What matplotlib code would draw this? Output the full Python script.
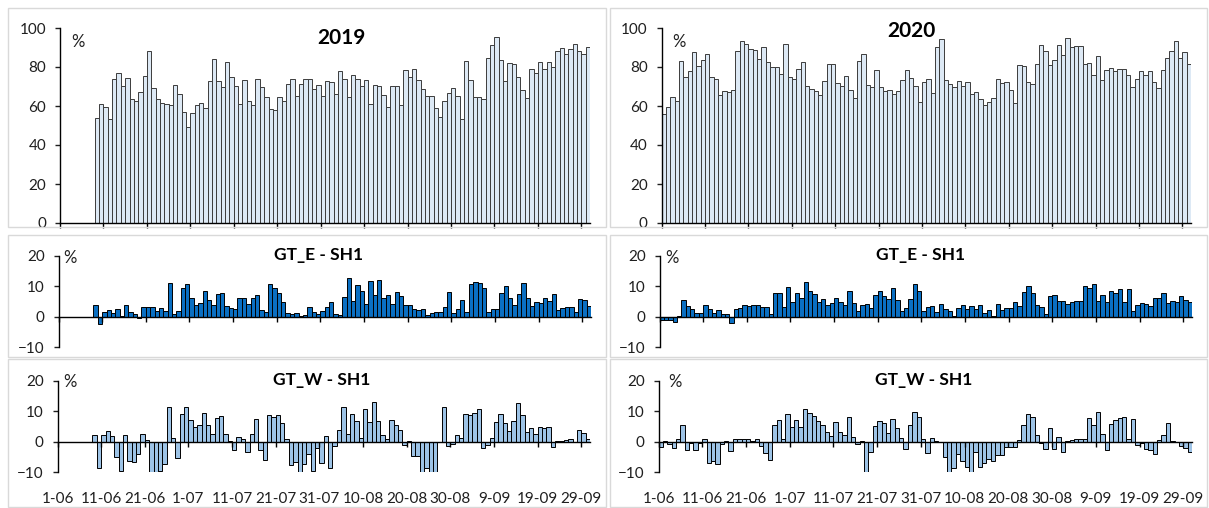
"""Daily occupancy 2019 vs 2020 with GT_E / GT_W differences."""

import numpy as np
import matplotlib.pyplot as plt
from matplotlib.patches import Rectangle

plt.rcParams["font.family"] = ["Lato", "DejaVu Sans"]

N_DAYS = 122  # 1 June .. 30 September
tick_labels = ["1-06", "11-06", "21-06", "1-07", "11-07", "21-07", "31-07",
               "10-08", "20-08", "30-08", "9-09", "19-09", "29-09"]

# 2019 series start on 9 June
occ_2019 = [
    54.0, 60.9, 59.7, 53.3, 74.0, 76.9, 70.4, 74.4, 63.4, 62.6,
    67.0, 75.6, 88.0, 69.4, 63.4, 61.7, 60.9, 60.5, 70.9, 66.2,
    57.1, 49.1, 56.2, 60.3, 61.7, 58.8, 72.8, 84.3, 72.8, 69.9,
    82.6, 74.7, 70.3, 60.9, 73.5, 62.6, 60.3, 74.0, 69.9, 64.4,
    58.5, 57.8, 64.8, 62.4, 71.5, 74.0, 65.3, 71.5, 74.0, 74.0,
    68.9, 70.9, 65.3, 72.8, 72.5, 66.2, 77.8, 73.7, 64.4, 76.1,
    74.0, 70.4, 73.2, 61.2, 70.9, 70.3, 65.8, 59.7, 70.3, 70.3,
    60.3, 78.5, 74.7, 79.1, 73.2, 68.9, 65.0, 65.3, 59.1, 54.4,
    62.4, 66.5, 69.4, 65.3, 53.5, 83.2, 73.2, 64.8, 64.8, 63.4,
    84.6, 91.3, 95.2, 83.8, 72.8, 81.9, 81.4, 75.0, 68.4, 64.1,
    79.0, 76.8, 82.7, 78.8, 82.7, 79.8, 88.4, 89.9, 86.8, 89.1,
    91.6, 88.0, 86.8, 90.4,
]
gte_2019 = [
    3.7, -2.5, 1.5, 2.3, 1.3, 2.7, 0.3, 3.7, 1.5, 0.8,
    -0.3, 3.2, 3.2, 3.2, 2.0, 2.8, 1.8, 11.2, 0.8, 1.8,
    9.5, 10.6, 6.3, 4.0, 4.6, 8.3, 5.6, 4.0, 7.5, 7.8,
    3.5, 3.0, 2.5, 6.3, 6.0, 4.3, 6.0, 7.0, 2.2, 1.5,
    10.7, 9.5, 7.8, 5.0, 1.3, 1.0, 1.3, 0.3, 0.5, 3.2,
    1.5, 1.0, 1.8, 3.3, 4.8, 0.9, 0.5, 6.4, 12.7, 5.2,
    10.3, 8.5, 4.2, 11.8, 7.2, 12.1, 6.3, 7.1, 4.3, 8.0,
    6.7, 4.0, 3.7, 2.7, 2.2, 2.6, 0.5, 1.1, 1.4, 1.6,
    3.1, 8.2, 1.3, 2.5, 5.4, 1.7, 10.7, 11.3, 11.1, 9.5,
    1.4, 2.5, 2.7, 7.9, 10.2, 6.3, 3.9, 7.3, 11.0, 6.3,
    3.4, 5.0, 4.5, 6.3, 5.2, 7.3, 2.2, 2.8, 3.3, 3.3,
    1.6, 5.9, 5.4, 3.5,
]
gtw_2019 = [
    2.1, -8.5, 2.1, 3.6, 1.9, -5.0, -9.5, 2.1, -6.2, -6.6,
    -4.0, 2.5, 0.5, -10.0, -10.0, -9.7, -7.4, 11.3, 1.2, -5.2,
    9.3, 11.3, 7.2, 4.8, 5.4, 9.6, 5.7, 2.7, 8.0, 8.5,
    2.5, 0.2, -2.7, 1.5, 1.1, -3.3, 2.5, 7.5, -2.7, -6.0,
    8.8, 8.2, 8.7, 6.3, 1.0, -7.6, -6.6, -10.0, -7.2, -4.0,
    -9.5, -2.0, -7.0, 2.0, -8.6, -1.2, 3.8, 11.5, 2.7, 9.2,
    7.0, 1.2, 10.9, 6.4, 13.0, 6.8, 2.3, 1.0, 7.3, 5.5,
    3.8, -1.1, 0.3, -4.8, -4.8, -10.0, -8.6, -9.8, -9.8, 0.0,
    11.5, -1.2, -0.8, 2.1, 1.4, 9.3, 8.8, 9.5, 10.9, -2.1,
    -1.0, 1.2, 6.4, 9.2, 6.1, 3.5, 6.8, 12.7, 8.8, 3.1,
    4.7, 2.7, 4.9, 4.7, 4.9, -1.6, 0.3, 0.3, 0.5, 1.0,
    -0.2, 3.8, 3.0, 0.8,
]

# 2020 series cover the whole period
occ_2020 = [
    55.7, 59.3, 64.4, 62.6, 82.9, 74.7, 77.8, 87.9, 80.5, 83.8,
    86.8, 74.9, 74.0, 65.8, 67.5, 67.0, 68.4, 88.0, 93.3, 91.6,
    89.2, 88.9, 83.9, 90.1, 82.4, 79.8, 79.8, 76.2, 91.6, 74.7,
    73.7, 79.1, 82.7, 70.4, 68.5, 67.9, 65.8, 72.8, 81.4, 81.4,
    71.6, 70.1, 75.2, 68.4, 63.9, 83.1, 86.5, 70.9, 69.6, 78.6,
    69.9, 67.7, 68.4, 66.0, 67.5, 73.3, 78.6, 74.2, 70.1, 61.9,
    72.1, 74.0, 66.7, 90.1, 94.5, 73.2, 71.1, 69.6, 72.6, 70.4,
    72.5, 66.2, 67.0, 63.8, 60.3, 62.1, 64.3, 73.7, 71.6, 72.1,
    68.0, 61.7, 81.0, 80.7, 72.1, 71.1, 81.4, 91.3, 88.4, 80.9,
    83.4, 91.3, 86.0, 94.9, 90.4, 90.9, 90.9, 81.4, 81.9, 76.1,
    85.5, 73.2, 78.6, 79.3, 77.8, 78.8, 78.8, 75.7, 69.6, 73.7,
    77.8, 76.1, 77.8, 72.1, 69.1, 78.3, 84.8, 88.4, 93.3, 84.8,
    87.5, 81.4,
]
gte_2020 = [
    -1.0, -1.0, -1.2, -1.6, 0.4, 5.6, 3.4, 2.6, 1.3, 1.3,
    3.7, 2.6, 1.3, 2.1, 0.8, 0.8, -1.9, 2.6, 2.8, 3.9,
    3.6, 3.7, 3.7, 3.3, 3.1, 0.8, 7.9, 7.9, 3.2, 9.7,
    4.8, 7.7, 6.3, 11.3, 8.4, 7.4, 5.0, 5.8, 3.7, 4.5,
    6.3, 4.8, 3.9, 8.6, 4.5, 1.9, 3.9, 4.3, 2.8, 7.1,
    8.4, 6.8, 5.8, 9.5, 5.6, 1.9, 3.0, 5.8, 10.7, 8.4,
    2.0, 3.3, 3.6, 1.7, 4.2, 2.5, 2.0, 0.4, 2.8, 3.8,
    2.5, 3.4, 2.7, 3.8, 1.3, 2.1, 0.4, 4.2, 2.3, 3.0,
    3.0, 4.9, 3.5, 8.1, 10.2, 7.9, 3.9, 3.2, 1.0, 6.7,
    7.0, 5.1, 5.1, 4.2, 4.9, 5.1, 5.1, 10.2, 9.5, 10.7,
    5.2, 7.1, 4.9, 8.3, 7.8, 9.2, 4.7, 9.2, 1.9, 3.7,
    4.4, 4.2, 3.6, 6.3, 6.1, 7.9, 4.4, 5.1, 4.7, 6.8,
    5.6, 4.9,
]
gtw_2020 = [
    -1.7, 0.3, -0.8, -2.0, 0.8, 5.7, -2.7, -0.3, -2.7, -0.3,
    0.8, -7.0, -6.2, -7.4, -0.8, 0.3, -3.1, 0.8, 0.8, 0.8,
    0.8, 0.3, 0.8, -1.2, -3.8, -5.9, 5.4, 7.3, 0.8, 9.1,
    4.8, 7.3, 5.0, 10.9, 9.6, 8.6, 6.7, 5.7, 3.1, 2.0,
    6.6, 3.1, 2.1, 8.1, 1.5, -0.7, 0.3, -10.0, -3.2, 5.2,
    7.0, 6.1, 2.8, 7.5, 4.6, 1.3, -2.2, 5.4, 9.8, 8.3,
    1.0, -3.8, 1.3, 0.3, 0.0, -5.0, -10.0, -8.6, -4.0, -6.2,
    -8.4, -10.0, -3.3, -8.4, -6.8, -5.7, -6.2, -4.4, -4.2, -1.6,
    -1.7, -1.7, 0.5, 5.7, 9.3, 8.1, 2.1, -0.4, -2.4, 4.4,
    -2.2, 1.5, -3.3, 0.3, 0.5, 1.1, 1.1, 1.0, 7.9, 5.5,
    9.8, 2.5, -2.8, 5.9, 7.1, 8.0, 8.2, 0.9, 7.5, -1.1,
    -0.4, -2.3, -2.7, -4.0, 0.5, 2.3, 6.1, 0.3, 0.0, -1.5,
    -1.9, -3.4,
]

W, H = 1209, 508
BOUNDS = np.arange(0, N_DAYS, 10) - 0.5


def rect(left, right, top, bottom):
    return [left / W, 1 - bottom / H, (right - left) / W, (bottom - top) / H]


def put_text(fig, x, y, s, **kw):
    fig.text(x / W, 1 - y / H, s, ha="center", va="center", **kw)


def positions(values):
    return np.arange(N_DAYS - len(values), N_DAYS)


def style_axes(ax):
    for side in ("top", "right"):
        ax.spines[side].set_visible(False)
    for side in ("left", "bottom"):
        ax.spines[side].set_linewidth(1.0)
    ax.set_xlim(-0.5, N_DAYS - 0.5)
    ax.set_xticks(BOUNDS)
    ax.tick_params(axis="x", direction="out", length=3.5, width=1.0, labelbottom=False)
    ax.tick_params(axis="y", direction="out", length=3.5, width=1.0, labelsize=11,
                   pad=6.5, colors="#1f1f1f")
    ax.patch.set_alpha(0)


def top_panel(ax, values):
    ax.bar(positions(values), values, width=1.0, color="#dde9f5",
           edgecolor="#3c3c3c", linewidth=0.7)
    style_axes(ax)
    ax.set_ylim(0, 100)
    ax.set_yticks(range(0, 101, 20))


def diff_panel(ax, values, color, with_labels):
    ax.bar(positions(values), values, width=1.0, color=color,
           edgecolor="black", linewidth=0.7)
    style_axes(ax)
    ax.set_ylim(-10, 20)
    ax.set_yticks([-10, 0, 10, 20])
    ax.spines["bottom"].set_position(("data", 0))
    if with_labels:
        sec = ax.secondary_xaxis("bottom")
        sec.set_xticks(BOUNDS, labels=tick_labels)
        sec.tick_params(length=0, pad=14, labelsize=11, colors="#1f1f1f")
        sec.spines["bottom"].set_visible(False)


def main() -> None:
    fig = plt.figure(figsize=(W / 100, H / 100), dpi=100)

    # light chart borders, as in the spreadsheet
    for x0, x1 in ((8, 606), (610, 1207)):
        for y0, y1 in ((8, 227), (235, 357), (359, 507)):
            fig.add_artist(Rectangle((x0 / W, 1 - y1 / H), (x1 - x0) / W, (y1 - y0) / H,
                                     transform=fig.transFigure, fill=False,
                                     edgecolor="#d9d9d9", linewidth=1.0))

    ax = fig.add_axes(rect(60, 590, 28, 223))
    top_panel(ax, occ_2019)
    ax = fig.add_axes(rect(58.5, 591, 255.7, 347.3))
    diff_panel(ax, gte_2019, "#0a6fc2", False)
    ax = fig.add_axes(rect(57.5, 590, 381, 472.3))
    diff_panel(ax, gtw_2019, "#9dc3e6", True)

    ax = fig.add_axes(rect(661.7, 1191, 28, 223))
    top_panel(ax, occ_2020)
    ax = fig.add_axes(rect(659.5, 1192, 255.7, 347.3))
    diff_panel(ax, gte_2020, "#0a6fc2", False)
    ax = fig.add_axes(rect(658.5, 1192, 381, 472.3))
    diff_panel(ax, gtw_2020, "#9dc3e6", True)

    put_text(fig, 341, 38, "2019", fontsize=15, fontweight="bold")
    put_text(fig, 911, 31, "2020", fontsize=15, fontweight="bold")
    put_text(fig, 319, 255, "GT_E - SH1", fontsize=12.5, fontweight="bold")
    put_text(fig, 921, 255, "GT_E - SH1", fontsize=12.5, fontweight="bold")
    put_text(fig, 322, 380, "GT_W - SH1", fontsize=12.5, fontweight="bold")
    put_text(fig, 924, 380, "GT_W - SH1", fontsize=12.5, fontweight="bold")
    for x, y in ((78, 42), (679, 42), (70, 258), (672, 258), (70, 382), (675, 382)):
        put_text(fig, x, y, "%", fontsize=12, color="#1f1f1f")

    fig.savefig("out.png", dpi=100)
    plt.close(fig)


if __name__ == "__main__":
    main()
